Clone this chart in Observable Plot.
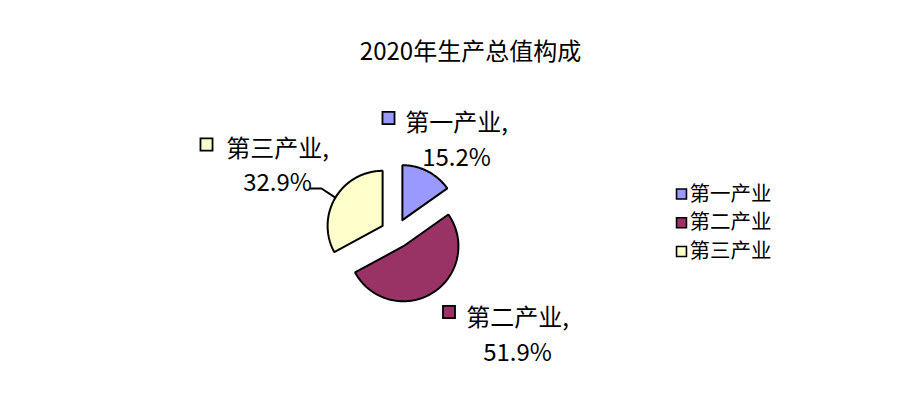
<!DOCTYPE html>
<html><head><meta charset="utf-8">
<script src="https://cdn.jsdelivr.net/npm/d3@7"></script>
<script src="https://cdn.jsdelivr.net/npm/@observablehq/plot@0.6"></script>
<style>html,body{margin:0;padding:0;background:#fff;overflow:hidden}</style>
</head><body><div id="chart"></div>
<script>
// ---- data ----
const sectors = ["第一产业", "第二产业", "第三产业"];
const shares = [15.2, 51.9, 32.9];
const colors = ["#9999FF", "#993366", "#FFFFCC"];
const titleText = "2020年生产总值构成";

// ---- layout (pixels) ----
const W = 921, H = 411;
const pieGeo = {cx: 395, cy: 233, r: 55, explode: 15};
const labelPos = [
  {x: 456, y1: 130, y2: 165, bx: 388, by: 117.5},
  {x: 517, y1: 325, y2: 360, bx: 448.5, by: 311.5},
  {x: 277, y1: 156, y2: 190, bx: 206, by: 144}
];
const leaderStart = {x: 310, y: 188, elbow: 321};
const legendPos = {bx: 681, tx: 689, y0: 193.5, dy: 28.75};
const titlePos = {x: 470, y: 52};
const CJK = "'Noto Sans CJK SC', 'Noto Sans', sans-serif";

// ---- geometry from data ----
const arcs = d3.pie().sort(null)(shares);
const slicePts = [];
const apexes = [];
arcs.forEach((a, i) => {
  const mid = (a.startAngle + a.endAngle) / 2;
  const ax = pieGeo.cx + pieGeo.explode * Math.sin(mid);
  const ay = pieGeo.cy - pieGeo.explode * Math.cos(mid);
  apexes.push({ax, ay, mid});
  slicePts.push({name: sectors[i], x: ax, y: ay});
  const n = Math.max(2, Math.ceil((a.endAngle - a.startAngle) / (Math.PI / 180)));
  for (let k = 0; k <= n; k++) {
    const t = a.startAngle + (a.endAngle - a.startAngle) * k / n;
    slicePts.push({name: sectors[i], x: ax + pieGeo.r * Math.sin(t), y: ay - pieGeo.r * Math.cos(t)});
  }
  slicePts.push({name: sectors[i], x: ax, y: ay});
});

// leader line for the third sector label
const a3 = apexes[2];
const leader = [
  {x: leaderStart.x, y: leaderStart.y},
  {x: leaderStart.elbow, y: leaderStart.y},
  {x: a3.ax + pieGeo.r * Math.sin(a3.mid), y: a3.ay - pieGeo.r * Math.cos(a3.mid)}
];

const labels = sectors.map((s, i) => ({
  name: s, line1: s + ",", line2: shares[i].toFixed(1) + "%",
  ...labelPos[i]
}));
const legend = sectors.map((s, i) => ({name: s, y: legendPos.y0 + i * legendPos.dy}));

const chart = Plot.plot({
  width: W, height: H, margin: 0,
  x: {domain: [0, W], range: [0, W], axis: null},
  y: {domain: [0, H], range: [0, H], axis: null},
  color: {domain: sectors, range: colors},
  style: {background: "#fff"},
  marks: [
    Plot.line(slicePts, {x: "x", y: "y", z: "name", fill: "name", stroke: "black", strokeWidth: 2, strokeLinejoin: "miter", curve: "linear"}),
    Plot.line(leader, {x: "x", y: "y", stroke: "black", strokeWidth: 2, strokeLinejoin: "miter"}),
    Plot.text([titleText], {x: () => titlePos.x, y: () => titlePos.y, text: d => d, fontSize: 24, fontFamily: CJK, fill: "black", textAnchor: "middle", lineAnchor: "middle"}),
    // data labels
    Plot.dot(labels, {x: "bx", y: "by", symbol: "square", r: 6.8, fill: "name", stroke: "black", strokeWidth: 1.8}),
    Plot.text(labels, {x: "x", y: "y1", text: "line1", fontSize: 24, fontFamily: CJK, fill: "black", textAnchor: "middle", lineAnchor: "bottom"}),
    Plot.text(labels, {x: "x", y: "y2", text: "line2", fontSize: 24, fontFamily: CJK, fill: "black", textAnchor: "middle", lineAnchor: "bottom"}),
    // legend
    Plot.dot(legend, {x: () => legendPos.bx, y: "y", symbol: "square", r: 5.6, fill: "name", stroke: "black", strokeWidth: 1.6}),
    Plot.text(legend, {x: () => legendPos.tx, y: "y", text: "name", fontSize: 20.5, fontFamily: CJK, fill: "black", textAnchor: "start", lineAnchor: "middle"})
  ]
});
document.getElementById("chart").appendChild(chart);
</script>
</body></html>
